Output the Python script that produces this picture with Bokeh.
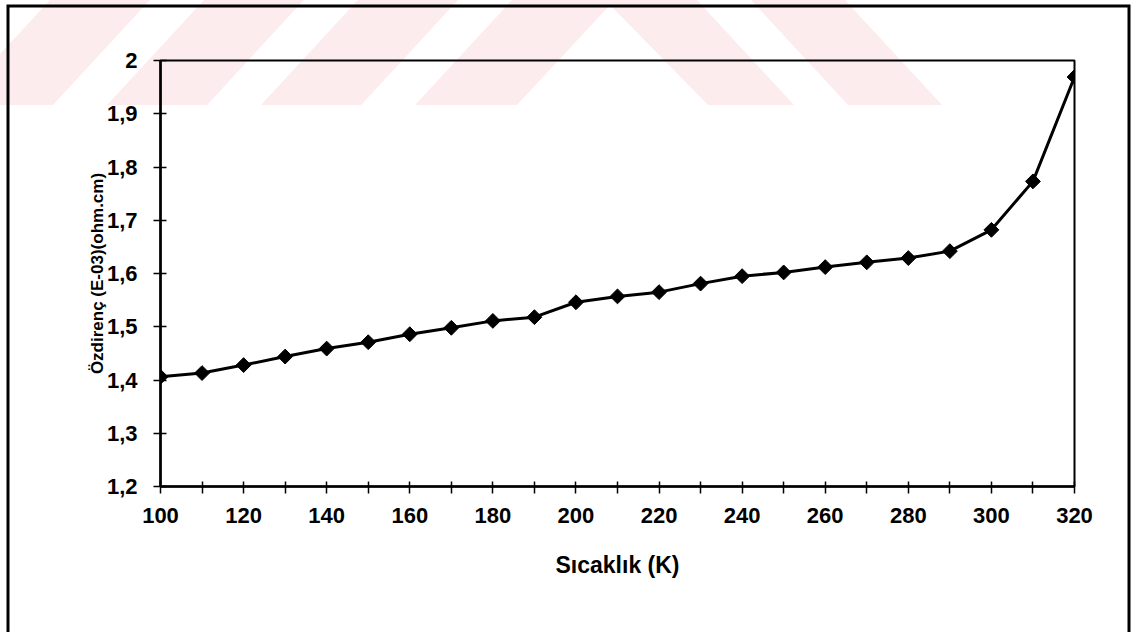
import math
from urllib.parse import quote
from bokeh.plotting import figure
from bokeh.models import FixedTicker, Range1d
from bokeh.embed import file_html
from bokeh.resources import INLINE

# ---- data ----
temperature_K = [100, 110, 120, 130, 140, 150, 160, 170, 180, 190, 200, 210,
                 220, 230, 240, 250, 260, 270, 280, 290, 300, 310, 320]
resistivity = [1.406, 1.413, 1.428, 1.444, 1.459, 1.471, 1.486, 1.498, 1.511,
               1.518, 1.546, 1.557, 1.565, 1.581, 1.595, 1.602, 1.612, 1.621,
               1.629, 1.642, 1.682, 1.773, 1.969]
x_ticks = [100, 120, 140, 160, 180, 200, 220, 240, 260, 280, 300, 320]
x_minor_ticks = [110, 130, 150, 170, 190, 210, 230, 250, 270, 290, 310]
y_ticks = [1.2, 1.3, 1.4, 1.5, 1.6, 1.7, 1.8, 1.9, 2.0]
y_tick_labels = ["1,2", "1,3", "1,4", "1,5", "1,6", "1,7", "1,8", "1,9", "2"]
x_title = "Sıcaklık (K)"
y_title = "Özdirenç (E-03)(ohm.cm)"

FONT = "Liberation Sans"

# ---- decorative page background: faint watermark band + chart-area border ----
PINK = "#fdecee"
wm_shapes = [
    ([-47, 53, 150, 50], [105, 105, 0, 0]),
    ([107, 207, 304, 204], [105, 105, 0, 0]),
    ([261, 361, 458, 358], [105, 105, 0, 0]),
    ([415, 517, 610, 708, 794, 697, 512], [105, 105, 5, 105, 105, 0, 0]),
    ([848, 942, 845, 751], [105, 105, 0, 0]),
]
svg_parts = ['<svg xmlns="http://www.w3.org/2000/svg" width="1144" height="632">']
for xs, ys in wm_shapes:
    pts = " ".join(f"{x},{y}" for x, y in zip(xs, ys))
    svg_parts.append(f'<polygon points="{pts}" fill="{PINK}"/>')
svg_parts.append('<rect x="8" y="6" width="1121" height="700" fill="none" '
                 'stroke="black" stroke-width="3"/>')
svg_parts.append('</svg>')
bg_url = "data:image/svg+xml," + quote("".join(svg_parts))

p = figure(width=1144, height=632, output_backend="svg", toolbar_location=None,
           x_range=Range1d(100, 320), y_range=Range1d(1.2, 2.0),
           min_border_left=160, min_border_right=70,
           min_border_top=60, min_border_bottom=146)
p.styles = {
    "background-image": f'url("{bg_url}")',
    "background-repeat": "no-repeat",
    "background-size": "1144px 632px",
    "background-position": "0px 0px",
    "background-color": "white",
}
p.grid.visible = False
p.background_fill_color = None
p.border_fill_color = None
p.outline_line_color = "black"
p.outline_line_width = 2

p.line(temperature_K, resistivity, line_color="black", line_width=3)
p.scatter(temperature_K, resistivity, marker="square", angle=math.pi / 4,
          size=10.5, fill_color="black", line_color="black")

p.xaxis.ticker = FixedTicker(ticks=x_ticks, minor_ticks=x_minor_ticks)
p.yaxis.ticker = FixedTicker(ticks=y_ticks, minor_ticks=[])
p.yaxis.major_label_overrides = {t: l for t, l in zip(y_ticks, y_tick_labels)}

for ax in (p.xaxis[0], p.yaxis[0]):
    ax.axis_line_color = "black"
    ax.axis_line_width = 2.5
    ax.major_tick_line_color = "black"
    ax.major_tick_line_width = 1.5
    ax.minor_tick_line_color = "black"
    ax.minor_tick_line_width = 1.5
    ax.major_label_text_font = FONT
    ax.major_label_text_font_style = "bold"
    ax.major_label_text_font_size = "22px"
    ax.major_label_text_color = "black"
    ax.axis_label_text_font = FONT
    ax.axis_label_text_font_style = "bold"
    ax.axis_label_text_color = "black"

p.xaxis.major_tick_in = 5
p.xaxis.major_tick_out = 7
p.xaxis.minor_tick_in = 5
p.xaxis.minor_tick_out = 7
p.xaxis.major_label_standoff = 14
p.xaxis.axis_label = x_title
p.xaxis.axis_label_text_font_size = "23px"
p.xaxis.axis_label_standoff = 26

p.yaxis.major_tick_in = 6
p.yaxis.major_tick_out = 7
p.yaxis.major_label_standoff = 16
p.yaxis.axis_label = y_title
p.yaxis.axis_label_text_font_size = "17px"
p.yaxis.axis_label_standoff = -3

open("out.html", "w").write(file_html(p, INLINE))
